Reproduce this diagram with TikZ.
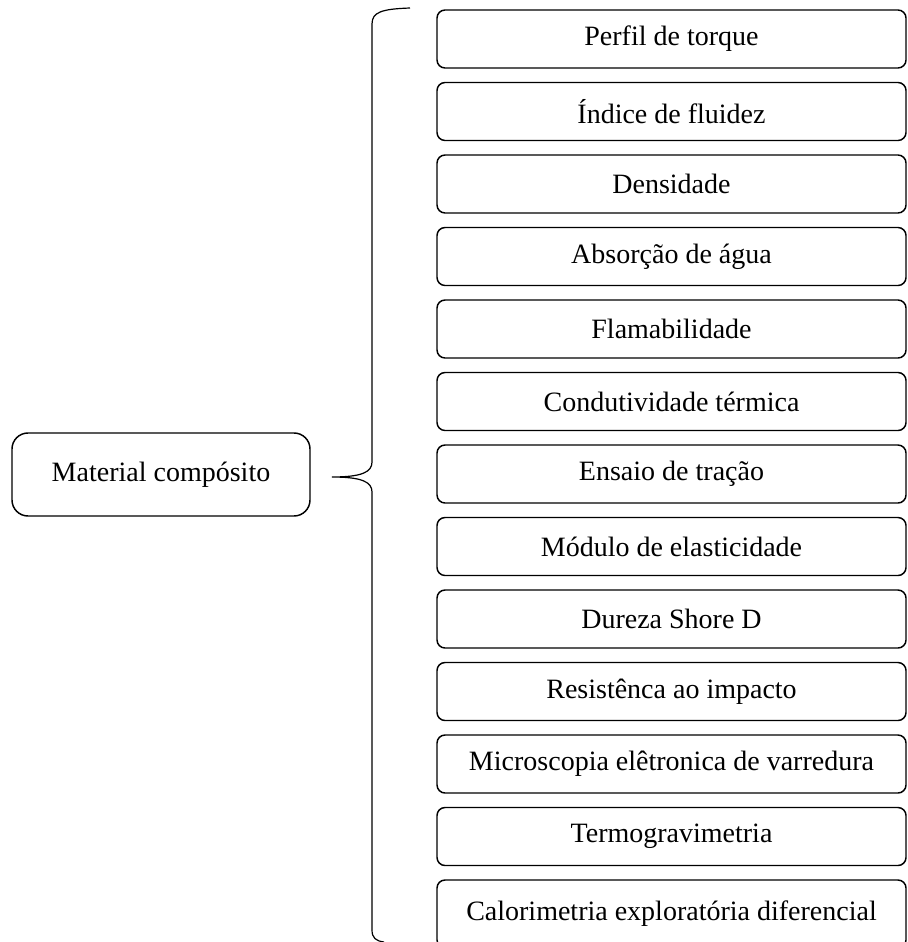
\documentclass[tikz,border=0pt]{standalone}
\usepackage{fontspec}
\setmainfont{Liberation Serif}
\usetikzlibrary{positioning}
\tikzset{
every node/.style={font=\fontsize{21}{25}\selectfont}, % texto como no original
ensaio/.style={draw, rounded corners=6pt, minimum width=351.75pt, minimum height=43.5pt, inner sep=0pt}, % caixas da direita
material/.style={draw, rounded corners=12pt, minimum width=223.5pt, minimum height=62.25pt, inner sep=0pt}, % caixa da esquerda
chave/.style={line width=0.9pt} % a chave
}

\begin{document}
\begin{tikzpicture}[x=0.75pt, y=-0.75pt, line width=1.1pt]
    \useasboundingbox (0,0) rectangle (907,942);
    \clip (0,0) rectangle (907,942);
    \node[material] (mat) at (161,474.5) {Material compósito};
    \node[ensaio] (perfil) at (671.5,39) {Perfil de torque};
    \node[ensaio] (indice) at (671.5,111.5) {Índice de fluidez};
    \node[ensaio] (dens) at (671.5,184) {Densidade};
    \node[ensaio] (absor) at (671.5,256.5) {Absorção de água};
    \node[ensaio] (flama) at (671.5,329) {Flamabilidade};
    \node[ensaio] (condut) at (671.5,401.5) {Condutividade térmica};
    \node[ensaio] (tracao) at (671.5,474) {Ensaio de tração};
    \node[ensaio] (modulo) at (671.5,546.5) {Módulo de elasticidade};
    \node[ensaio] (dureza) at (671.5,619) {Dureza Shore D};
    \node[ensaio] (impacto) at (671.5,691.5) {Resistênca ao impacto};
    \node[ensaio] (mev) at (671.5,764) {Microscopia elêtronica de varredura};
    \node[ensaio] (tga) at (671.5,836.5) {Termogravimetria};
    \node[ensaio, minimum height=51pt] (dsc) at (671.5,914) {Calorimetria exploratória diferencial};
    % chave
    \coordinate (ponta) at (332,477);
    \coordinate (topo) at (410,8);
    \coordinate (base) at (384,942);
    \draw[chave] (topo) .. controls (382,9) and (372,12) .. (372,24) -- (372,462)
        .. controls (372,472) and (362,477) .. (ponta)
        .. controls (362,477) and (372,482) .. (372,492) -- (372,930)
        .. controls (372,938) and (376,941) .. (base);
\end{tikzpicture}
\end{document}
